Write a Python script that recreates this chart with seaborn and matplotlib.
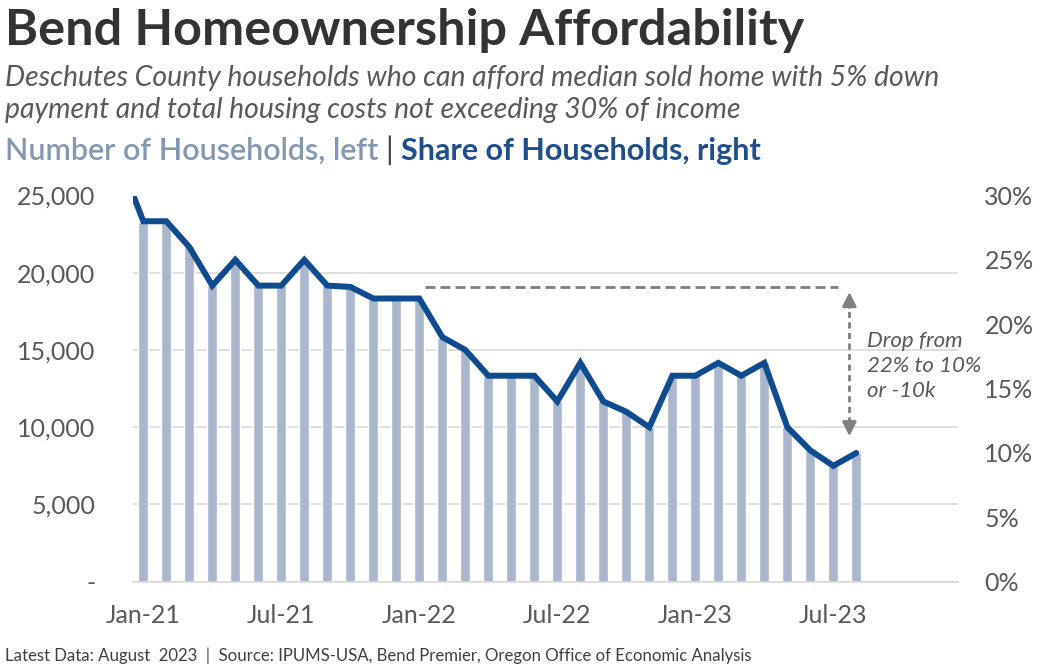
import numpy as np
import pandas as pd
import matplotlib
matplotlib.use("Agg")
import matplotlib.pyplot as plt
import seaborn as sns

# ---------------- data ----------------
months = ["Jan-21", "Feb-21", "Mar-21", "Apr-21", "May-21", "Jun-21", "Jul-21", "Aug-21",
          "Sep-21", "Oct-21", "Nov-21", "Dec-21", "Jan-22", "Feb-22", "Mar-22", "Apr-22",
          "May-22", "Jun-22", "Jul-22", "Aug-22", "Sep-22", "Oct-22", "Nov-22", "Dec-22",
          "Jan-23", "Feb-23", "Mar-23", "Apr-23", "May-23", "Jun-23", "Jul-23", "Aug-23"]
households = [23300, 23300, 21700, 19200, 20800, 19200, 19200, 20800,
              19200, 19100, 18300, 18300, 18300, 15800, 15000, 13400,
              13400, 13400, 11700, 14200, 11700, 11000, 10000, 13400,
              13400, 14200, 13400, 14200, 10000, 8500, 7500, 8300]
share_pct = [28, 28, 26, 23, 25, 23, 23, 25,
             23, 22.9, 22, 22, 22, 19, 18, 16,
             16, 16, 14, 17, 14, 13.2, 12, 16,
             16, 17, 16, 17, 12, 10.2, 9, 10]
prior_share_pct = 32.6   # Dec-20 share, clipped at the chart's top edge
tick_labels = ["Jan-21", "Jul-21", "Jan-22", "Jul-22", "Jan-23", "Jul-23"]
left_ticks = [0, 5000, 10000, 15000, 20000, 25000]
right_ticks = [0, 5, 10, 15, 20, 25, 30]

BAR = "#a9b6cb"
LINE = "#0e4b8f"
GRID = "#d9d9d9"
TXT = "#595959"
ANN = "#7f7f7f"

sns.set_theme(style="white")
plt.rcParams["font.family"] = ["Lato", "DejaVu Sans"]

W, H = 1037, 668
fig = plt.figure(figsize=(W / 100, H / 100), dpi=100)
L, R, T, B = 133, 958, 195.5, 581.7
ax = fig.add_axes([L / W, 1 - B / H, (R - L) / W, (B - T) / H])

df = pd.DataFrame({"month": months, "households": households, "share": share_pct})
sns.barplot(data=df, x="month", y="households", color=BAR, saturation=1,
            width=0.43, ax=ax, zorder=2)
ax.set_ylim(0, 25000)
ax.set_xlim(-0.448, 35.42)
ax.set_yticks(left_ticks)
ax.set_yticklabels(["-" if v == 0 else f"{v:,}" for v in left_ticks])
xpos = [months.index(m) for m in tick_labels]
ax.set_xticks(xpos)
ax.set_xticklabels(tick_labels)
ax.set_xlabel("")
ax.set_ylabel("")
ax.grid(axis="y", color=GRID, lw=1.2, zorder=0)
ax.set_axisbelow(True)
for s in ["top", "left", "right"]:
    ax.spines[s].set_visible(False)
ax.spines["bottom"].set_color(GRID)
ax.spines["bottom"].set_linewidth(1.2)
ax.tick_params(axis="y", length=0, pad=27, labelsize=18, labelcolor=TXT)
ax.tick_params(axis="x", length=0, pad=16, labelsize=18, labelcolor=TXT)

ax2 = ax.twinx()
line_x = np.arange(-1, len(share_pct))
line_y = [prior_share_pct] + share_pct
sns.lineplot(x=line_x, y=line_y, ax=ax2, color=LINE, lw=4.3, zorder=5,
             solid_joinstyle="miter")
ax2.set_ylim(0, 30)
ax2.set_xlim(-0.448, 35.42)
ax2.set_yticks(right_ticks)
ax2.set_yticklabels([f"{v}%" for v in right_ticks])
ax2.set_ylabel("")
for s in ["top", "left", "right", "bottom"]:
    ax2.spines[s].set_visible(False)
ax2.tick_params(axis="y", length=0, pad=19, labelsize=18, labelcolor=TXT)
ax2.grid(False)

# annotation: reference level, arrow, note
ax2.plot([12.25, 30.2], [22.9, 22.9], color=ANN, lw=2, ls=(0, (3.6, 1.8)), zorder=4)
ax2.plot([30.7, 30.7], [12.3, 21.4], color=ANN, lw=2, ls=(0, (2.2, 1.6)), zorder=4)
ax2.annotate("", xy=(30.7, 22.5), xytext=(30.7, 21.3),
             arrowprops=dict(arrowstyle="-|>,head_length=0.7,head_width=0.35",
                             color=ANN, lw=2, shrinkA=0, shrinkB=0), zorder=4)
ax2.annotate("", xy=(30.7, 11.3), xytext=(30.7, 12.5),
             arrowprops=dict(arrowstyle="-|>,head_length=0.7,head_width=0.35",
                             color=ANN, lw=2, shrinkA=0, shrinkB=0), zorder=4)
fig.text(867 / W, 1 - 331 / H, "Drop from\n22% to 10%\nor -10k", ha="left", va="top",
         fontsize=16, style="italic", color=TXT, linespacing=1.3)

# titles
fig.text(5 / W, 1 - 45 / H, "Bend Homeownership Affordability", ha="left",
         va="baseline", fontsize=36.3, fontweight="bold", color="#333333")
fig.text(5 / W, 1 - 86 / H,
         "Deschutes County households who can afford median sold home with 5% down",
         ha="left", va="baseline", fontsize=20.4, style="italic", color=TXT)
fig.text(5 / W, 1 - 118 / H, "payment and total housing costs not exceeding 30% of income",
         ha="left", va="baseline", fontsize=20.4, style="italic", color=TXT)

t1 = fig.text(5 / W, 1 - 160 / H, "Number of Households, left ", ha="left",
              va="baseline", fontsize=22, fontweight="semibold", color="#8497b0")
fig.canvas.draw()
bb = t1.get_window_extent()
t2 = fig.text(bb.x1 / W, 1 - 160 / H, "| ", ha="left", va="baseline",
              fontsize=22, color="#404040")
fig.canvas.draw()
bb2 = t2.get_window_extent()
fig.text(bb2.x1 / W, 1 - 160 / H, "Share of Households, right", ha="left",
         va="baseline", fontsize=22, fontweight="bold", color="#1f4e8c")

fig.text(5 / W, 1 - 661 / H,
         "Latest Data: August  2023  |  Source: IPUMS-USA, Bend Premier, Oregon Office of Economic Analysis",
         ha="left", va="baseline", fontsize=12.1, color="#404040")

fig.savefig("out.png", dpi=100, facecolor="white")
